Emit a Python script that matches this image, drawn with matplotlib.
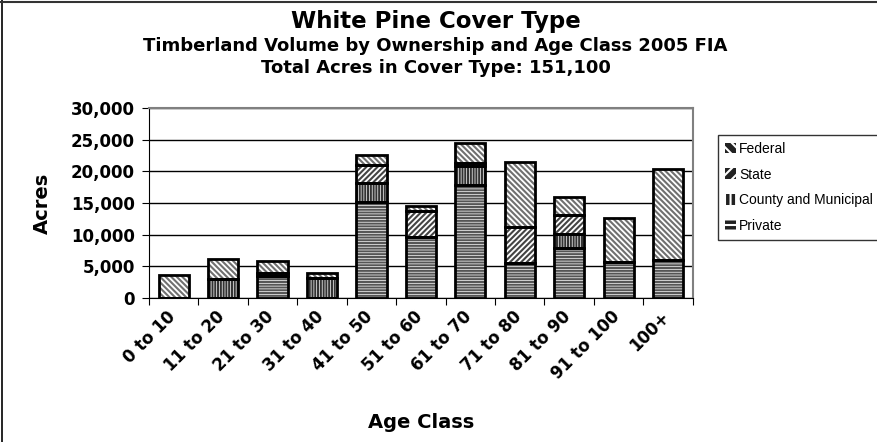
import numpy as np
import matplotlib.pyplot as plt
from matplotlib.patches import Rectangle
from matplotlib.lines import Line2D

plt.rcParams['font.family'] = ['DejaVu Sans']
plt.rcParams['hatch.linewidth'] = 1.5

age_classes = ['0 to 10', '11 to 20', '21 to 30', '31 to 40', '41 to 50', '51 to 60',
               '61 to 70', '71 to 80', '81 to 90', '91 to 100', '100+']
private = [0, 0, 3500, 0, 15200, 9700, 17850, 5500, 7850, 5650, 5950]
county = [0, 3000, 0, 3100, 3000, 0, 3000, 0, 2250, 0, 0]
state = [0, 0, 500, 0, 2800, 4050, 530, 5700, 3000, 0, 0]
federal = [3700, 3100, 1800, 800, 1600, 800, 3150, 10200, 2800, 6900, 14350]

series = [('Private', private, '#555555', '------'),
          ('County and Municipal', county, '#333333', '||||||'),
          ('State', state, '#444444', '//////'),
          ('Federal', federal, '#707070', '\\\\\\\\\\\\')]

fig = plt.figure(figsize=(8.78, 4.42), dpi=100)
ax = fig.add_axes([0.1697, 0.3258, 0.6193, 0.43])

x = np.arange(len(age_classes))
bottom = np.zeros(len(age_classes))
handles = []
for name, vals, col, hatch in series:
    vals = np.array(vals, dtype=float)
    ax.bar(x, vals, 0.61, bottom=bottom, color='white', hatch=hatch,
           edgecolor=col, linewidth=0, zorder=3)
    ax.bar(x, vals, 0.61, bottom=bottom, fill=False, edgecolor='black',
           linewidth=2, zorder=4)
    handles.append(Rectangle((0, 0), 1, 1, facecolor='#222222', hatch=hatch[:3],
                             edgecolor='white', linewidth=0, label=name))
    bottom += vals

ax.set_ylim(0, 30000)
ax.set_xlim(-0.5, len(age_classes) - 0.5)
ax.set_yticks(range(0, 30001, 5000))
ax.set_yticklabels(['{:,}'.format(v) for v in range(0, 30001, 5000)],
                   fontsize=12, fontweight='bold')
ax.yaxis.grid(True, color='black', linewidth=1, zorder=0)
ax.set_axisbelow(True)
ax.set_xticks(np.arange(len(age_classes) + 1) - 0.5)
ax.set_xticklabels([])
# labels sit a little left of the bar centres, as in the original
ax.set_xticks(x - 0.15, minor=True)
ax.set_xticklabels(age_classes, minor=True, rotation=45, ha='right',
                   rotation_mode='anchor', fontsize=12, fontweight='bold')
ax.tick_params(axis='x', which='minor', length=0, pad=7)
ax.tick_params(axis='x', which='major', length=5, direction='out')
ax.tick_params(axis='y', length=5, direction='out', pad=5)
ax.spines['top'].set_color('#808080')
ax.spines['right'].set_color('#808080')
ax.spines['top'].set_linewidth(1.5)
ax.spines['right'].set_linewidth(1.5)

ax.set_ylabel('Acres', fontsize=14, fontweight='bold', labelpad=14)
fig.text(0.48, 0.043, 'Age Class', fontsize=14, fontweight='bold',
         ha='center', va='center')
fig.text(0.496, 0.952, 'White Pine Cover Type', fontsize=16.5, fontweight='bold',
         ha='center', va='center')
fig.text(0.496, 0.897, 'Timberland Volume by Ownership and Age Class 2005 FIA',
         fontsize=13, fontweight='bold', ha='center', va='center')
fig.text(0.496, 0.846, 'Total Acres in Cover Type: 151,100', fontsize=13,
         fontweight='bold', ha='center', va='center')

leg = fig.legend(handles=handles[::-1], loc='upper left',
                 bbox_to_anchor=(0.8178, 0.695),
                 prop={'family': 'Liberation Sans', 'size': 10}, frameon=True,
                 fancybox=False, edgecolor='black', handlelength=0.8,
                 handleheight=0.8, handletextpad=0.2, labelspacing=0.85,
                 borderpad=0.5, borderaxespad=0)
leg.get_frame().set_linewidth(1)

fig.add_artist(Line2D([0.002, 0.002], [0, 1], transform=fig.transFigure,
                      color='black', linewidth=1.2))
fig.add_artist(Line2D([0, 1], [0.996, 0.996], transform=fig.transFigure,
                      color='#333333', linewidth=1.5))

fig.savefig('out.png', dpi=100)
